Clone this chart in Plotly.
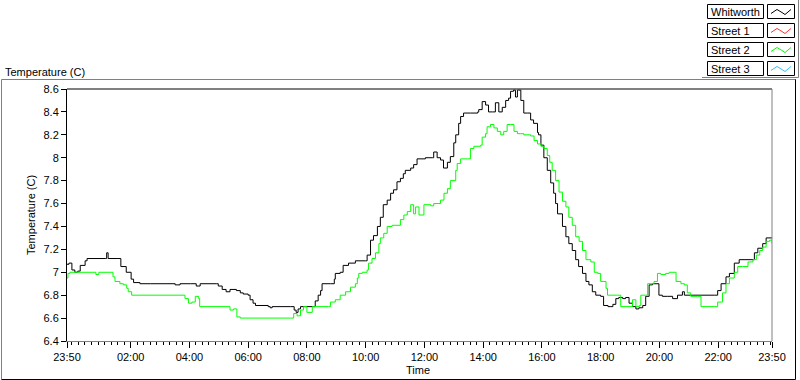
import plotly.graph_objects as go

# ---------------- data ----------------
# minutes elapsed since 23:50 (chart spans 24 h)
whitworth_min = [0, 4, 10, 16, 22, 27, 37, 41, 78, 81, 84, 104, 110, 121, 131, 136, 149, 170, 221, 231,
                 252, 264, 272, 306, 309, 317, 325, 333, 346, 354, 360, 370, 374, 380, 385, 411, 415, 419,
                 456, 464, 468, 472, 477, 501, 507, 513, 518, 521, 538, 546, 548, 558, 564, 575, 589, 610,
                 613, 620, 626, 634, 640, 646, 654, 661, 667, 674, 681, 687, 691, 702, 708, 715, 732, 746,
                 749, 756, 763, 769, 777, 783, 790, 794, 800, 804, 810, 824, 839, 841, 848, 855, 861, 869,
                 875, 882, 889, 896, 902, 906, 912, 916, 920, 922, 927, 933, 940, 947, 953, 961, 963, 968,
                 974, 981, 988, 994, 998, 1002, 1012, 1019, 1025, 1032, 1039, 1045, 1053, 1060, 1066, 1073,
                 1080, 1090, 1096, 1105, 1111, 1115, 1121, 1127, 1135, 1141, 1148, 1155, 1162, 1168, 1176,
                 1182, 1189, 1196, 1205, 1209, 1216, 1227, 1237, 1247, 1257, 1261, 1295, 1322, 1329, 1336,
                 1346, 1353, 1363, 1373, 1397, 1404, 1411, 1421, 1428, 1440]
whitworth_temp = [7.07, 7.08, 7.02, 7.0, 7.01, 7.06, 7.1, 7.12, 7.12, 7.17, 7.12, 7.12, 7.05, 7.0, 6.94,
                  6.91, 6.9, 6.9, 6.89, 6.9, 6.9, 6.88, 6.9, 6.9, 6.88, 6.85, 6.83, 6.85, 6.84, 6.82, 6.81,
                  6.8, 6.76, 6.73, 6.71, 6.7, 6.69, 6.7, 6.7, 6.67, 6.65, 6.68, 6.7, 6.7, 6.75, 6.8, 6.84,
                  6.9, 6.9, 6.94, 6.99, 7.0, 7.06, 7.08, 7.1, 7.1, 7.15, 7.28, 7.32, 7.40, 7.48, 7.59, 7.63,
                  7.69, 7.72, 7.79, 7.82, 7.86, 7.89, 7.91, 7.94, 7.99, 8.0, 8.0, 8.05, 8.0, 7.98, 7.91,
                  7.96, 8.01, 8.13, 8.2, 8.3, 8.36, 8.39, 8.39, 8.4, 8.42, 8.49, 8.46, 8.4, 8.4, 8.48, 8.4,
                  8.44, 8.5, 8.52, 8.58, 8.59, 8.53, 8.59, 8.59, 8.5, 8.39, 8.39, 8.33, 8.3, 8.22, 8.2,
                  8.11, 8.0, 7.89, 7.78, 7.69, 7.6, 7.51, 7.40, 7.31, 7.25, 7.19, 7.11, 7.05, 6.99, 6.92,
                  6.89, 6.83, 6.8, 6.79, 6.71, 6.7, 6.7, 6.72, 6.77, 6.78, 6.77, 6.78, 6.73, 6.7, 6.68,
                  6.69, 6.71, 6.79, 6.89, 6.9, 6.9, 6.8, 6.79, 6.79, 6.77, 6.8, 6.83, 6.8, 6.8, 6.8, 6.84,
                  6.9, 6.96, 6.99, 7.08, 7.11, 7.11, 7.17, 7.21, 7.25, 7.3, 7.3]

street2_min = [0, 2, 6, 53, 59, 65, 88, 94, 98, 108, 115, 122, 125, 132, 235, 241, 248, 255, 262, 269,
               271, 327, 333, 340, 347, 354, 456, 463, 470, 477, 483, 490, 501, 534, 538, 548, 558, 569,
               579, 589, 593, 596, 603, 613, 616, 623, 630, 637, 640, 647, 654, 664, 674, 681, 688, 695,
               702, 708, 712, 719, 729, 743, 749, 763, 770, 777, 783, 794, 797, 804, 818, 824, 831, 845,
               848, 855, 858, 865, 872, 879, 886, 892, 899, 906, 913, 920, 927, 933, 947, 954, 961, 968,
               974, 981, 986, 991, 998, 1005, 1012, 1019, 1025, 1032, 1039, 1046, 1053, 1060, 1070, 1077,
               1084, 1090, 1101, 1104, 1125, 1131, 1148, 1155, 1162, 1169, 1172, 1182, 1186, 1199, 1206,
               1213, 1223, 1230, 1240, 1244, 1254, 1261, 1267, 1274, 1288, 1295, 1322, 1329, 1339, 1346,
               1353, 1363, 1370, 1380, 1391, 1401, 1408, 1415, 1421, 1428, 1435, 1440]
street2_temp = [6.95, 6.99, 7.0, 7.0, 6.98, 7.0, 7.0, 6.96, 6.92, 6.9, 6.89, 6.86, 6.83, 6.8, 6.8, 6.77,
                6.73, 6.74, 6.79, 6.77, 6.7, 6.7, 6.67, 6.68, 6.61, 6.6, 6.6, 6.64, 6.62, 6.67, 6.7, 6.65,
                6.7, 6.7, 6.74, 6.76, 6.8, 6.83, 6.87, 6.9, 6.95, 6.99, 7.0, 7.02, 7.08, 7.12, 7.17, 7.25,
                7.3, 7.34, 7.4, 7.41, 7.41, 7.46, 7.5, 7.53, 7.59, 7.51, 7.57, 7.5, 7.59, 7.58, 7.6, 7.63,
                7.69, 7.73, 7.8, 7.89, 7.95, 7.99, 7.99, 8.08, 8.1, 8.11, 8.18, 8.21, 8.27, 8.29, 8.26,
                8.23, 8.2, 8.23, 8.29, 8.29, 8.23, 8.21, 8.21, 8.2, 8.19, 8.15, 8.12, 8.1, 8.08, 8.02,
                7.96, 7.89, 7.8, 7.7, 7.62, 7.57, 7.48, 7.41, 7.31, 7.27, 7.19, 7.11, 7.09, 7.0, 6.99,
                6.92, 6.86, 6.8, 6.8, 6.7, 6.7, 6.76, 6.7, 6.71, 6.8, 6.8, 6.9, 6.92, 6.99, 6.98, 6.99,
                7.0, 7.0, 6.92, 6.9, 6.89, 6.82, 6.79, 6.79, 6.7, 6.7, 6.74, 6.82, 6.9, 6.95, 7.0, 7.05,
                7.05, 7.09, 7.11, 7.15, 7.19, 7.22, 7.27, 7.28, 7.25]

x_tick_minutes = [0, 130, 250, 370, 490, 610, 730, 850, 970, 1090, 1210, 1330, 1440]
x_tick_labels = ["23:50", "02:00", "04:00", "06:00", "08:00", "10:00", "12:00", "14:00",
                 "16:00", "18:00", "20:00", "22:00", "23:50"]
y_tick_values = [6.4, 6.6, 6.8, 7.0, 7.2, 7.4, 7.6, 7.8, 8.0, 8.2, 8.4, 8.6]
y_tick_labels = ["6.4", "6.6", "6.8", "7", "7.2", "7.4", "7.6", "7.8", "8", "8.2", "8.4", "8.6"]

series_names = ["Whitworth", "Street 1", "Street 2", "Street 3"]
series_colors = ["#000000", "#FF3030", "#00FF00", "#30C0FF"]

# ---------------- layout geometry (pixels) ----------------
W, H = 800, 380
L, R, T, B = 67, 772, 89, 341
FONT = "Liberation Sans, Arial, sans-serif"


def px(xp):
    return (xp - L) / (R - L)


def py(yp):
    return (B - yp) / (B - T)


fig = go.Figure()
fig.add_trace(go.Scatter(x=whitworth_min, y=whitworth_temp, mode="lines", line_shape="hv",
                         line=dict(color=series_colors[0], width=1), name=series_names[0]))
fig.add_trace(go.Scatter(x=street2_min, y=street2_temp, mode="lines", line_shape="hv",
                         line=dict(color=series_colors[2], width=1), name=series_names[2]))

# minor ticks every 800 s, anchored on the even hours
minor_vals = []
v = 10.0
while v <= 1440:
    minor_vals.append(v)
    v += 40.0 / 3.0

fig.update_xaxes(range=[0, 1440], tickmode="array", tickvals=x_tick_minutes, ticktext=x_tick_labels,
                 ticks="outside", ticklen=6, tickcolor="black", tickwidth=1,
                 showline=True, linecolor="#808080", linewidth=1, showgrid=False, zeroline=False,
                 tickfont=dict(family=FONT, size=11, color="black"),
                 minor=dict(tickmode="array", tickvals=minor_vals, ticks="outside", ticklen=3,
                            tickcolor="black", tickwidth=1, showgrid=False))
fig.update_yaxes(range=[6.4, 8.6], tickmode="array", tickvals=y_tick_values, ticktext=y_tick_labels,
                 ticks="outside", ticklen=5, tickcolor="black", tickwidth=1,
                 showline=True, linecolor="black", linewidth=1, showgrid=False, zeroline=False,
                 tickfont=dict(family=FONT, size=11, color="black"))

shapes = []
# plot area top (black) and right (gray)
shapes.append(dict(type="line", xref="paper", yref="paper", x0=0, x1=1, y0=1, y1=1,
                   line=dict(color="black", width=1)))
shapes.append(dict(type="line", xref="paper", yref="paper", x0=1, x1=1, y0=0, y1=1,
                   line=dict(color="#808080", width=1)))
# outer frame of graph panel
shapes.append(dict(type="line", xref="paper", yref="paper", x0=px(1.5), x1=px(796), y0=py(79.5), y1=py(79.5),
                   line=dict(color="#808080", width=1)))
shapes.append(dict(type="line", xref="paper", yref="paper", x0=px(1.5), x1=px(1.5), y0=py(79.5), y1=py(379.5),
                   line=dict(color="#808080", width=1)))
shapes.append(dict(type="line", xref="paper", yref="paper", x0=px(1.5), x1=px(795.5), y0=py(379.5), y1=py(379.5),
                   line=dict(color="black", width=1)))
shapes.append(dict(type="line", xref="paper", yref="paper", x0=px(795.5), x1=px(795.5), y0=py(79.5), y1=py(379.5),
                   line=dict(color="black", width=1)))
# legend panel shadow
shapes.append(dict(type="line", xref="paper", yref="paper", x0=px(702), x1=px(798.5), y0=py(77.5), y1=py(77.5),
                   line=dict(color="#808080", width=1)))
shapes.append(dict(type="line", xref="paper", yref="paper", x0=px(798.5), x1=px(798.5), y0=py(0), y1=py(77.5),
                   line=dict(color="#808080", width=1)))

annotations = []
row_tops = [4.5, 23.5, 42.5, 61.5]
for i, name in enumerate(series_names):
    top = row_tops[i]
    bot = top + 14
    shapes.append(dict(type="rect", xref="paper", yref="paper", x0=px(707.5), x1=px(763.5),
                       y0=py(bot), y1=py(top), line=dict(color="black", width=1), fillcolor="white"))
    shapes.append(dict(type="rect", xref="paper", yref="paper", x0=px(767.5), x1=px(794.5),
                       y0=py(bot), y1=py(top), line=dict(color="black", width=1), fillcolor="white"))
    zig = [(771, top + 9), (777, top + 5), (782, top + 8), (785, top + 10), (791, top + 5)]
    path = "M " + " L ".join(f"{px(a):.5f},{py(b):.5f}" for a, b in zig)
    shapes.append(dict(type="path", xref="paper", yref="paper", path=path,
                       line=dict(color=series_colors[i], width=1)))
    annotations.append(dict(xref="paper", yref="paper", x=px(709), y=py(top + 7.5), text=name,
                            showarrow=False, xanchor="left", yanchor="middle",
                            font=dict(family=FONT, size=11, color="black")))

annotations.append(dict(xref="paper", yref="paper", x=px(3), y=py(72), text="Temperature (C)",
                        showarrow=False, xanchor="left", yanchor="middle",
                        font=dict(family=FONT, size=11, color="black")))
annotations.append(dict(xref="paper", yref="paper", x=px(31), y=py(215), text="Temperature (C)",
                        textangle=-90, showarrow=False, xanchor="center", yanchor="middle",
                        font=dict(family=FONT, size=11, color="black")))
annotations.append(dict(xref="paper", yref="paper", x=px(418), y=py(370), text="Time",
                        showarrow=False, xanchor="center", yanchor="middle",
                        font=dict(family=FONT, size=11, color="black")))

fig.update_layout(width=W, height=H, margin=dict(l=L, r=W - R, t=T, b=H - B, pad=0),
                  paper_bgcolor="white", plot_bgcolor="white", showlegend=False,
                  shapes=shapes, annotations=annotations)

fig.write_html("out.html", config={"displayModeBar": False},
               post_script="document.body.style.margin='0';document.body.style.overflow='hidden';")
